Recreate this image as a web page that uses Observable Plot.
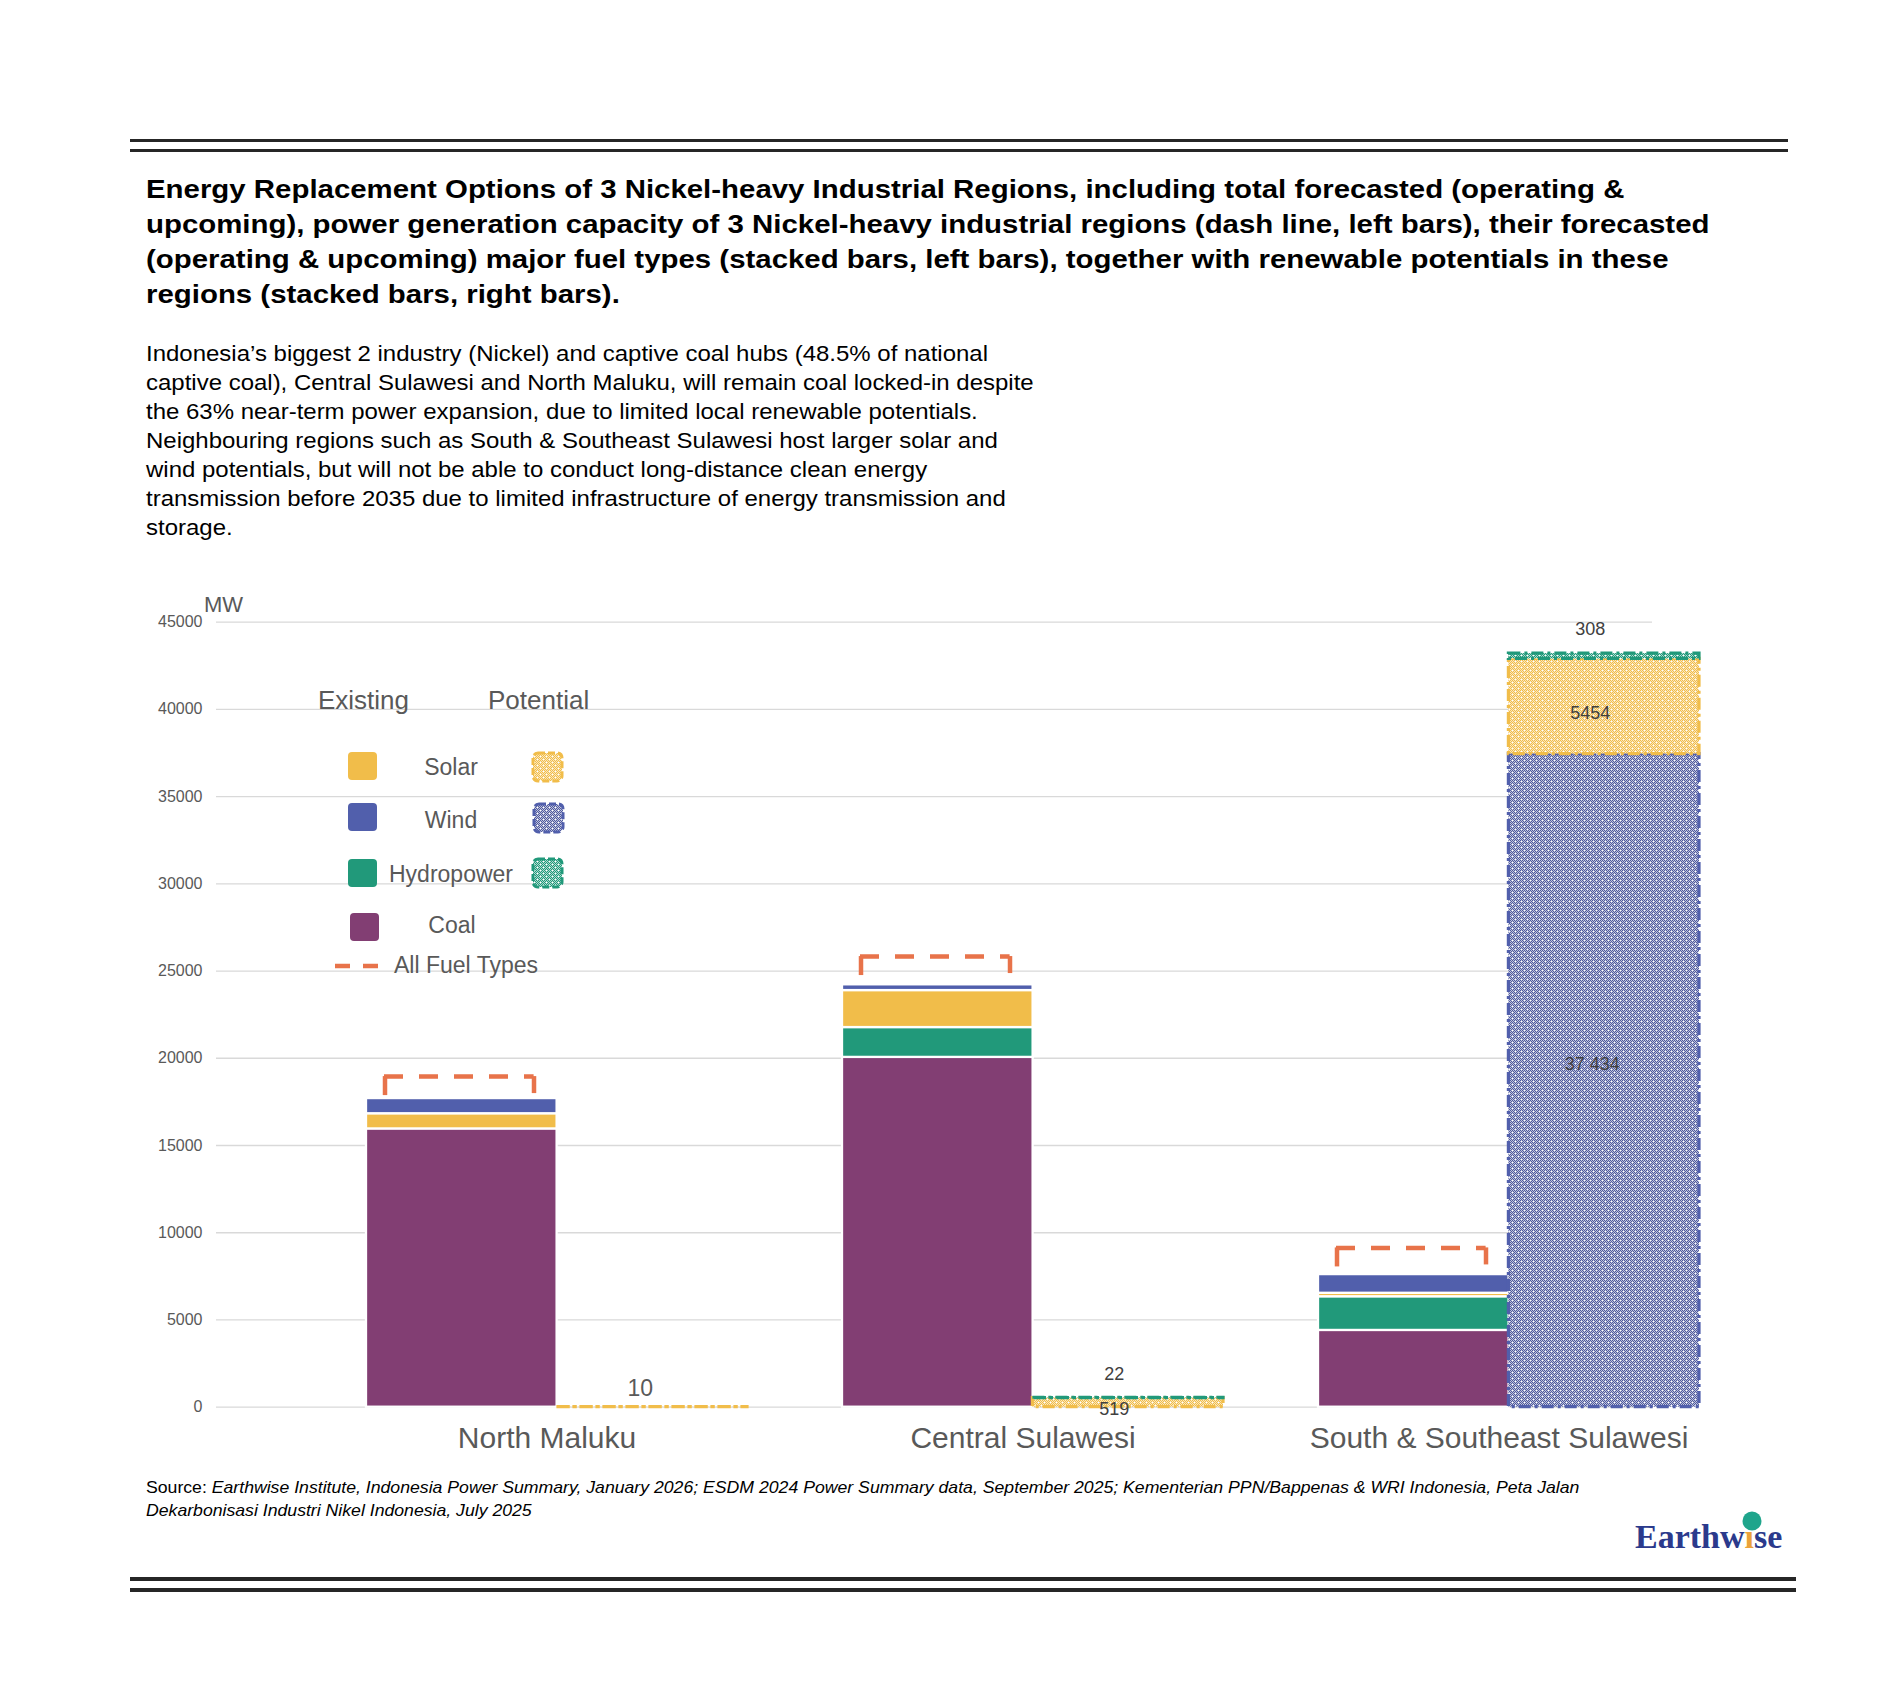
<!DOCTYPE html>
<html>
<head>
<meta charset="utf-8">
<script src="https://cdn.jsdelivr.net/npm/d3@7"></script>
<script src="https://cdn.jsdelivr.net/npm/@observablehq/plot@0.6"></script>
<style>
html, body { margin: 0; padding: 0; background: #fff; }
body { width: 1890px; height: 1701px; position: relative; overflow: hidden; font-family: "Liberation Sans", Arial, sans-serif; }
.abs { position: absolute; }
.rule { position: absolute; background: #262626; }
#title { left: 146px; top: 172px; font-size: 25px; font-weight: bold; line-height: 35px; color: #000; white-space: nowrap; transform: scaleX(1.176); transform-origin: 0 0; }
#para { left: 146px; top: 339px; font-size: 22px; line-height: 29px; color: #000; white-space: nowrap; transform: scaleX(1.09); transform-origin: 0 0; }
#source { left: 146px; top: 1476px; font-size: 16.5px; line-height: 23px; color: #000; white-space: nowrap; transform: scaleX(1.07); transform-origin: 0 0; }
#source i { font-style: italic; }
#mw { left: 204px; top: 592px; font-size: 22px; color: #595959; }
#chart { left: 0; top: 580px; }
#overlay { left: 0; top: 0; pointer-events: none; }
</style>
</head>
<body>
<svg width="0" height="0" style="position:absolute" id="defs-holder"><defs id="pattern-defs"></defs></svg>

<div class="rule" style="left:130px;top:139px;width:1658px;height:3px;"></div>
<div class="rule" style="left:130px;top:149px;width:1658px;height:3px;"></div>

<div id="title" class="abs">Energy Replacement Options of 3 Nickel-heavy Industrial Regions, including total forecasted (operating &amp;<br>upcoming), power generation capacity of 3 Nickel-heavy industrial regions (dash line, left bars), their forecasted<br>(operating &amp; upcoming) major fuel types (stacked bars, left bars), together with renewable potentials in these<br>regions (stacked bars, right bars).</div>

<div id="para" class="abs">Indonesia’s biggest 2 industry (Nickel) and captive coal hubs (48.5% of national<br>captive coal), Central Sulawesi and North Maluku, will remain coal locked-in despite<br>the 63% near-term power expansion, due to limited local renewable potentials.<br>Neighbouring regions such as South &amp; Southeast Sulawesi host larger solar and<br>wind potentials, but will not be able to conduct long-distance clean energy<br>transmission before 2035 due to limited infrastructure of energy transmission and<br>storage.</div>

<div id="chart" class="abs"></div>
<div id="mw" class="abs">MW</div>

<div id="source" class="abs">Source: <i>Earthwise Institute, Indonesia Power Summary, January 2026; ESDM 2024 Power Summary data, September 2025; Kementerian PPN/Bappenas &amp; WRI Indonesia, Peta Jalan<br>Dekarbonisasi Industri Nikel Indonesia, July 2025</i></div>

<div class="rule" style="left:130px;top:1577px;width:1666px;height:4px;"></div>
<div class="rule" style="left:130px;top:1588px;width:1666px;height:4px;"></div>

<svg id="overlay" class="abs" width="1890" height="1701" font-family="Liberation Sans, Arial, sans-serif">
  <g fill="#595959">
    <text x="318" y="709" font-size="26">Existing</text>
    <text x="488" y="709" font-size="26">Potential</text>
    <text x="451" y="775" font-size="23" text-anchor="middle">Solar</text>
    <text x="451" y="828" font-size="23" text-anchor="middle">Wind</text>
    <text x="451" y="882" font-size="23" text-anchor="middle">Hydropower</text>
    <text x="452" y="933" font-size="23" text-anchor="middle">Coal</text>
    <text x="394" y="973" font-size="23">All Fuel Types</text>
  </g>
  <rect x="348" y="752" width="29" height="28" rx="4" fill="#F1BD4A"/>
  <rect x="348" y="803" width="29" height="28" rx="4" fill="#515FAC"/>
  <rect x="348" y="859" width="29" height="28" rx="4" fill="#21997A"/>
  <rect x="350" y="913" width="29" height="28" rx="4" fill="#823E73"/>
  <rect x="533" y="753" width="29" height="28" rx="5" fill="url(#pat-solar)" stroke="#F1BD4A" stroke-width="3" stroke-dasharray="7,3"/>
  <rect x="534" y="804" width="29" height="28" rx="5" fill="url(#pat-wind)" stroke="#515FAC" stroke-width="3" stroke-dasharray="7,3"/>
  <rect x="533" y="859" width="29" height="28" rx="5" fill="url(#pat-hydro)" stroke="#21997A" stroke-width="3" stroke-dasharray="7,3"/>
  <line x1="335" y1="966" x2="378" y2="966" stroke="#E8734A" stroke-width="4.5" stroke-dasharray="15,13"/>
  <text x="1635" y="1548" font-family="Liberation Serif, serif" font-size="34" font-weight="bold" fill="#2B3A8C">Earthw<tspan fill="#EBA23A">ı</tspan>se</text>
  <circle cx="1752" cy="1521" r="9.5" fill="#1FA58C"/>
</svg>

<script>
// ---------- data ----------
const regions = ["North Maluku", "Central Sulawesi", "South & Southeast Sulawesi"];
const fuelTypes = ["coal", "hydro", "solar", "wind"];
const existingCoal  = [15950, 20050, 4400];
const existingHydro = [0, 1710, 1930];
const existingSolar = [870, 2120, 200];
const existingWind  = [870, 330, 1070];
const allFuelTotal  = [18950, 25830, 9130];
const potentialTypes = ["wind", "solar", "hydro"];
const potentialWind  = [0, 0, 37434];
const potentialSolar = [10, 519, 5454];
const potentialHydro = [0, 22, 308];
const yTicks = [0, 5000, 10000, 15000, 20000, 25000, 30000, 35000, 40000, 45000];

// ---------- styles ----------
const COLORS = { coal: "#823E73", hydro: "#21997A", solar: "#F1BD4A", wind: "#515FAC" };
const ORANGE = "#E8734A";

// dotted patterns for potential bars
function makePattern(id, color) {
  let solid = "", faint = "";
  for (let i = 0; i < 6; i++) for (let j = 0; j < 6; j++) {
    if ((i === 0 && j === 0) || (i === 3 && j === 3)) continue;
    if ((i + j) % 2 === 0) solid += `<rect x="${i}" y="${j}" width="1" height="1"/>`;
    else faint += `<rect x="${i}" y="${j}" width="1" height="1"/>`;
  }
  return `<pattern id="${id}" patternUnits="userSpaceOnUse" width="6" height="6"><rect width="6" height="6" fill="#fff"/>` +
    `<g fill="${color}" shape-rendering="crispEdges">${solid}</g>` +
    `<g fill="${color}" fill-opacity="0.36" shape-rendering="crispEdges">${faint}</g></pattern>`;
}
document.getElementById("pattern-defs").innerHTML =
  makePattern("pat-solar", COLORS.solar) + makePattern("pat-wind", "#4F5A9E") + makePattern("pat-hydro", COLORS.hydro);

// ---------- tables built from arrays ----------
const existingSeries = { coal: existingCoal, hydro: existingHydro, solar: existingSolar, wind: existingWind };
const potentialSeries = { wind: potentialWind, solar: potentialSolar, hydro: potentialHydro };
const existing = [];
regions.forEach((r, i) => fuelTypes.forEach(t => existing.push({ region: r, type: t, value: existingSeries[t][i] })));
const potential = [];
regions.forEach((r, i) => potentialTypes.forEach(t => potential.push({ region: r, type: t, value: potentialSeries[t][i] })));
const totals = regions.map((r, i) => ({ region: r, total: allFuelTotal[i] }));

// ---------- layout ----------
const X_RANGE = [318.5, 1746.5];
const PAD_IN = 0.2, PAD_OUT = 0.1;
const step = (X_RANGE[1] - X_RANGE[0]) / (regions.length - PAD_IN + 2 * PAD_OUT);
const band = step * (1 - PAD_IN);
const half = band / 2;

const spaceFmt = v => v >= 10000 ? d3.format(",")(v).replace(/,/g, " ") : String(v);

const chart = Plot.plot({
  width: 1890,
  height: 890,
  marginLeft: 216,
  marginRight: 238,
  marginTop: 41.6,
  marginBottom: 63.3,
  style: { fontFamily: "Liberation Sans, Arial, sans-serif", background: "transparent", overflow: "visible" },
  x: { type: "band", domain: regions, range: X_RANGE, paddingInner: PAD_IN, paddingOuter: PAD_OUT },
  y: { domain: [0, 45000] },
  color: { type: "identity" },
  marks: [
    Plot.gridY(yTicks, { stroke: "#d9d9d9", strokeOpacity: 1, strokeWidth: 1.3 }),
    Plot.axisY({ ticks: yTicks, tickSize: 0, tickPadding: 14, fontSize: 16, fill: "#595959", tickFormat: d => String(d), label: null }),
    Plot.axisX({ tickSize: 0, tickPadding: 19, fontSize: 30, fill: "#595959", label: null, dx: -10 }),
    // existing (left) stacked bars
    Plot.barY(existing, Plot.stackY({
      x: "region", y: "value", fill: d => COLORS[d.type],
      stroke: "white", strokeWidth: 2.3, insetRight: half
    })),
    // potential (right) stacked bars
    Plot.barY(potential, Plot.stackY({
      x: "region", y: "value", fill: d => `url(#pat-${d.type})`,
      stroke: d => COLORS[d.type], strokeWidth: 3.2, strokeDasharray: "12,4,3,4", insetLeft: half
    })),
    // wind labels inside potential segments
    Plot.text(potential, Plot.stackY({
      x: "region", y: "value",
      text: d => (d.type === "wind" && d.value >= 100) ? spaceFmt(d.value) : "",
      dx: half / 2 - 12, dy: -16, fontSize: 18, fill: "#404040"
    })),
    // solar labels inside potential segments
    Plot.text(potential, Plot.stackY({
      x: "region", y: "value",
      text: d => (d.type === "solar" && d.value >= 100) ? spaceFmt(d.value) : "",
      dx: half / 2 - 14, dy: 7, fontSize: 18, fill: "#404040"
    })),
    // hydro labels above potential stacks
    Plot.text(potential, Plot.stackY2({
      x: "region", y: "value",
      text: d => (d.type === "hydro" && d.value > 0) ? spaceFmt(d.value) : "",
      dx: half / 2 - 14, dy: -24, fontSize: 18, fill: "#404040"
    })),
    Plot.text(potential, Plot.stackY2({
      x: "region", y: "value",
      text: d => (d.type === "solar" && d.value > 0 && d.value < 100) ? spaceFmt(d.value) : "",
      dx: half / 2 - 12, dy: -18, fontSize: 23, fill: "#595959"
    })),
    // all fuel types dashed bracket
    Plot.tickY(totals, { x: "region", y: "total", stroke: ORANGE, strokeWidth: 4.5, strokeDasharray: "19,16", insetLeft: 18, insetRight: half + 23 }),
    Plot.ruleX(totals, { x: "region", y1: "total", y2: "total", insetBottom: -19, dx: -172, stroke: ORANGE, strokeWidth: 4.5 }),
    Plot.ruleX(totals, { x: "region", y1: "total", y2: "total", insetBottom: -17, dx: -23, stroke: ORANGE, strokeWidth: 4.5 })
  ]
});
document.getElementById("chart").appendChild(chart);
</script>
</body>
</html>
